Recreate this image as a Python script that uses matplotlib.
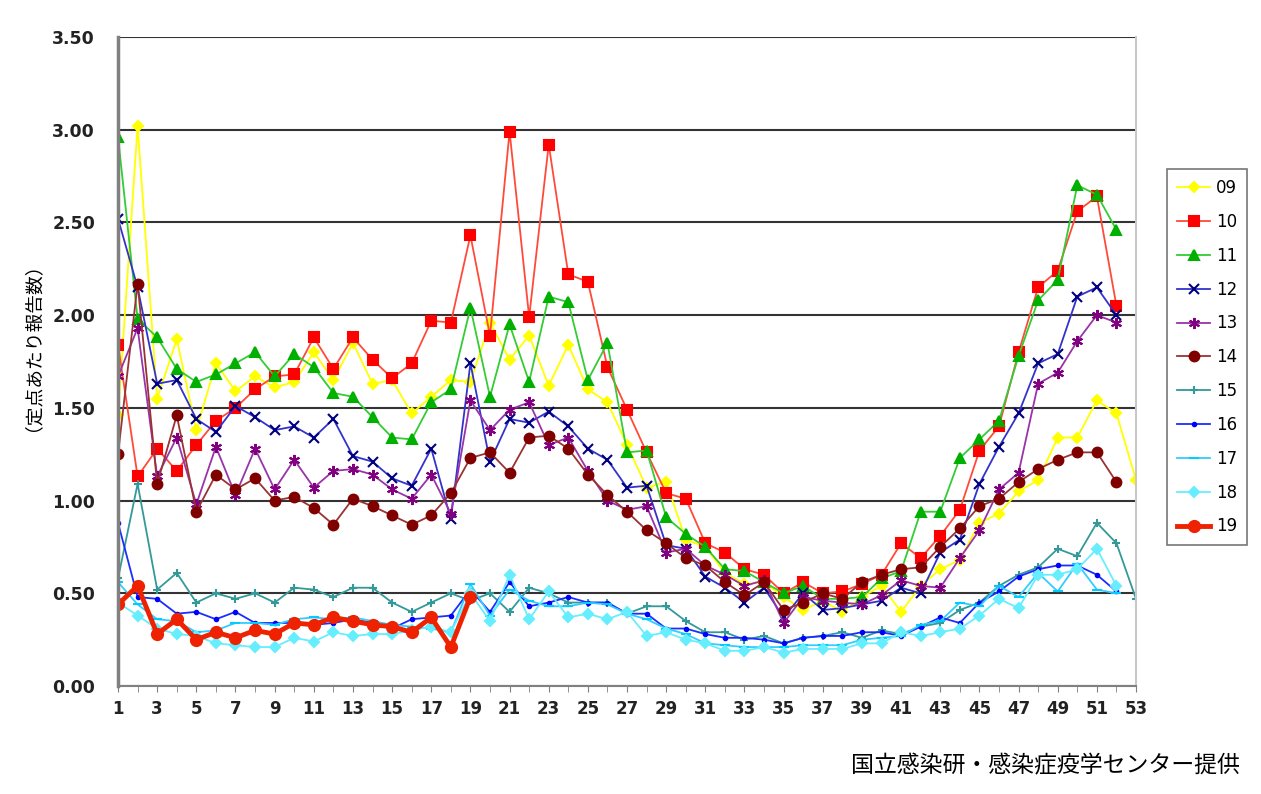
import numpy as np
import matplotlib
matplotlib.use("Agg")
import matplotlib.pyplot as plt

plt.rcParams['font.family'] = ['DejaVu Sans', 'Noto Sans CJK JP']

# weekly values per season (定点あたり報告数)
s09 = [1.46, 3.02, 1.55, 1.87, 1.38, 1.74, 1.59, 1.67, 1.61, 1.64, 1.80, 1.65, 1.85,
       1.63, 1.65, 1.47, 1.56, 1.65, 1.64, 1.96, 1.76, 1.89, 1.62, 1.84, 1.60, 1.53,
       1.30, 1.07, 1.10, 0.79, 0.75, 0.61, 0.55, 0.56, 0.48, 0.41, 0.46, 0.40, 0.48,
       0.54, 0.40, 0.54, 0.63, 0.68, 0.88, 0.93, 1.05, 1.11, 1.34, 1.34, 1.54, 1.47, 1.11]
s10 = [1.84, 1.13, 1.28, 1.16, 1.30, 1.43, 1.50, 1.60, 1.67, 1.68, 1.88, 1.71, 1.88,
       1.76, 1.66, 1.74, 1.97, 1.96, 2.43, 1.89, 2.99, 1.99, 2.92, 2.22, 2.18, 1.72,
       1.49, 1.26, 1.04, 1.01, 0.77, 0.72, 0.63, 0.60, 0.50, 0.56, 0.50, 0.51, 0.55,
       0.60, 0.77, 0.69, 0.81, 0.95, 1.27, 1.40, 1.80, 2.15, 2.24, 2.56, 2.64, 2.05]
s11 = [2.96, 1.98, 1.88, 1.71, 1.64, 1.68, 1.74, 1.80, 1.67, 1.79, 1.72, 1.58, 1.56,
       1.45, 1.34, 1.33, 1.53, 1.60, 2.04, 1.56, 1.95, 1.64, 2.10, 2.07, 1.65, 1.85,
       1.26, 1.27, 0.91, 0.82, 0.75, 0.63, 0.62, 0.56, 0.50, 0.54, 0.47, 0.47, 0.48,
       0.58, 0.62, 0.94, 0.94, 1.23, 1.33, 1.43, 1.78, 2.08, 2.19, 2.70, 2.65, 2.46]
s12 = [2.52, 2.15, 1.63, 1.65, 1.44, 1.37, 1.51, 1.45, 1.38, 1.40, 1.34, 1.44, 1.24,
       1.21, 1.12, 1.08, 1.28, 0.90, 1.74, 1.21, 1.44, 1.42, 1.48, 1.40, 1.28, 1.22,
       1.07, 1.08, 0.76, 0.74, 0.59, 0.53, 0.45, 0.53, 0.37, 0.50, 0.41, 0.42, 0.44,
       0.46, 0.53, 0.50, 0.72, 0.79, 1.09, 1.29, 1.47, 1.74, 1.79, 2.10, 2.15, 2.00]
s13 = [1.67, 1.93, 1.13, 1.34, 0.98, 1.29, 1.03, 1.28, 1.06, 1.22, 1.07, 1.16, 1.17,
       1.14, 1.06, 1.01, 1.14, 0.93, 1.54, 1.38, 1.49, 1.53, 1.30, 1.34, 1.16, 1.00,
       0.95, 0.97, 0.72, 0.74, 0.65, 0.60, 0.54, 0.57, 0.34, 0.48, 0.46, 0.45, 0.44,
       0.49, 0.57, 0.54, 0.53, 0.69, 0.84, 1.06, 1.15, 1.63, 1.69, 1.86, 2.00, 1.96]
s14 = [1.25, 2.17, 1.09, 1.46, 0.94, 1.14, 1.06, 1.12, 1.00, 1.02, 0.96, 0.87, 1.01,
       0.97, 0.92, 0.87, 0.92, 1.04, 1.23, 1.26, 1.15, 1.34, 1.35, 1.28, 1.14, 1.03,
       0.94, 0.84, 0.77, 0.69, 0.65, 0.56, 0.49, 0.56, 0.41, 0.45, 0.50, 0.47, 0.56,
       0.60, 0.63, 0.64, 0.75, 0.85, 0.97, 1.01, 1.10, 1.17, 1.22, 1.26, 1.26, 1.10]
s15 = [0.58, 1.09, 0.52, 0.61, 0.45, 0.50, 0.47, 0.50, 0.45, 0.53, 0.52, 0.48, 0.53,
       0.53, 0.45, 0.40, 0.45, 0.50, 0.46, 0.50, 0.40, 0.53, 0.50, 0.45, 0.45, 0.45,
       0.39, 0.43, 0.43, 0.35, 0.29, 0.29, 0.25, 0.27, 0.23, 0.26, 0.27, 0.29, 0.26,
       0.30, 0.28, 0.32, 0.34, 0.41, 0.45, 0.54, 0.60, 0.64, 0.74, 0.70, 0.88, 0.77, 0.47]
s16 = [0.88, 0.48, 0.47, 0.39, 0.40, 0.36, 0.40, 0.34, 0.34, 0.34, 0.33, 0.34, 0.36,
       0.34, 0.31, 0.36, 0.37, 0.38, 0.52, 0.40, 0.56, 0.43, 0.45, 0.48, 0.45, 0.45,
       0.39, 0.39, 0.31, 0.31, 0.28, 0.26, 0.26, 0.25, 0.23, 0.26, 0.27, 0.27, 0.29,
       0.29, 0.27, 0.32, 0.37, 0.34, 0.45, 0.51, 0.59, 0.63, 0.65, 0.65, 0.60, 0.51]
s17 = [0.56, 0.44, 0.36, 0.35, 0.29, 0.30, 0.34, 0.34, 0.33, 0.36, 0.37, 0.36, 0.37,
       0.35, 0.33, 0.32, 0.31, 0.29, 0.55, 0.38, 0.52, 0.46, 0.43, 0.43, 0.45, 0.44,
       0.39, 0.36, 0.31, 0.28, 0.23, 0.22, 0.21, 0.21, 0.21, 0.22, 0.22, 0.22, 0.25,
       0.26, 0.27, 0.33, 0.35, 0.45, 0.43, 0.54, 0.48, 0.61, 0.51, 0.66, 0.52, 0.50]
s18 = [0.45, 0.38, 0.31, 0.28, 0.27, 0.23, 0.22, 0.21, 0.21, 0.26, 0.24, 0.29, 0.27,
       0.28, 0.28, 0.30, 0.32, 0.29, 0.50, 0.35, 0.60, 0.36, 0.51, 0.37, 0.39, 0.36,
       0.40, 0.27, 0.29, 0.25, 0.23, 0.19, 0.19, 0.21, 0.18, 0.20, 0.20, 0.20, 0.23,
       0.23, 0.29, 0.27, 0.29, 0.31, 0.38, 0.47, 0.42, 0.60, 0.60, 0.63, 0.74, 0.54]
s19 = [0.44, 0.54, 0.28, 0.36, 0.25, 0.29, 0.26, 0.30, 0.28, 0.34, 0.33, 0.37, 0.35,
       0.33, 0.32, 0.29, 0.37, 0.21, 0.48]

labels = ['09', '10', '11', '12', '13', '14', '15', '16', '17', '18', '19']
series = [s09, s10, s11, s12, s13, s14, s15, s16, s17, s18, s19]

# (line colour, marker, marker face, marker size, line width)
styles = [
    ('#FFFF00', 'D', '#FFFF00', 5, 1.3),
    ('#FF4A3A', 's', '#FF0000', 7, 1.3),
    ('#33CC33', '^', '#00B000', 7, 1.3),
    ('#3333CC', 'x', '#000080', 7, 1.3),
    ('#9933AA', (6, 2, 0), '#800080', 8, 1.3),
    ('#993333', 'o', '#800000', 7, 1.3),
    ('#339999', '+', '#339999', 6, 1.3),
    ('#1A2EFF', '.', '#0000FF', 5, 1.3),
    ('#33CCFF', '_', '#00CCFF', 7, 1.3),
    ('#66EEFF', 'D', '#66EEFF', 5, 1.3),
    ('#EE2200', 'o', '#EE2200', 8, 3.5),
]

fig = plt.figure(figsize=(12.61, 7.94), dpi=100)
ax = fig.add_axes([0.0936, 0.136, 0.8073, 0.8174])

for lab, vals, (lc, mk, mf, ms, lw) in zip(labels, series, styles):
    weeks = np.arange(1, len(vals) + 1)
    ax.plot(weeks, vals, color=lc, lw=lw, marker=mk, markersize=ms,
            markerfacecolor=mf, markeredgecolor=mf, markeredgewidth=1.5, label=lab)

ax.set_xlim(1, 53)
ax.set_ylim(0, 3.5)
ax.set_yticks(np.arange(0, 3.51, 0.5))
ax.set_yticklabels(['%.2f' % v for v in np.arange(0, 3.51, 0.5)])
ax.set_xticks(np.arange(1, 54, 2))
ax.set_xticks(np.arange(1, 54), minor=True)
ax.tick_params(axis='y', length=0, pad=16.5, labelsize=12.5)
ax.tick_params(axis='x', which='both', direction='out', length=4, color='#808080',
               labelsize=12, pad=6)
for t in ax.get_xticklabels() + ax.get_yticklabels():
    t.set_fontweight('bold')
    t.set_color('#222222')

ax.grid(axis='y', color='#333333', lw=1.5)
ax.set_axisbelow(True)
ax.spines['top'].set_visible(False)
ax.spines['left'].set_color('#808080')
ax.spines['left'].set_linewidth(2.5)
ax.spines['bottom'].set_color('#808080')
ax.spines['bottom'].set_linewidth(1.5)
ax.spines['right'].set_color('#C8C8C8')
ax.spines['right'].set_linewidth(1.5)

fig.text(0.018, 0.575, '（定点あたり報告数）', rotation=90, ha='center', va='center',
         fontsize=13.5, family=['Noto Sans CJK JP'])
fig.text(0.983, 0.035, '国立感染研・感染症疫学センター提供', ha='right', va='center',
         fontsize=16.5, family=['Noto Sans CJK JP'])

leg = fig.legend(loc='upper left', bbox_to_anchor=(0.9255, 0.787), frameon=True,
                 fancybox=False, edgecolor='#555555', handlelength=2.0,
                 labelspacing=0.95, borderpad=0.6, handletextpad=0.35,
                 borderaxespad=0, prop={'family': 'DejaVu Sans', 'size': 12})
leg.get_frame().set_linewidth(1.2)

fig.savefig('out.png', dpi=100)
